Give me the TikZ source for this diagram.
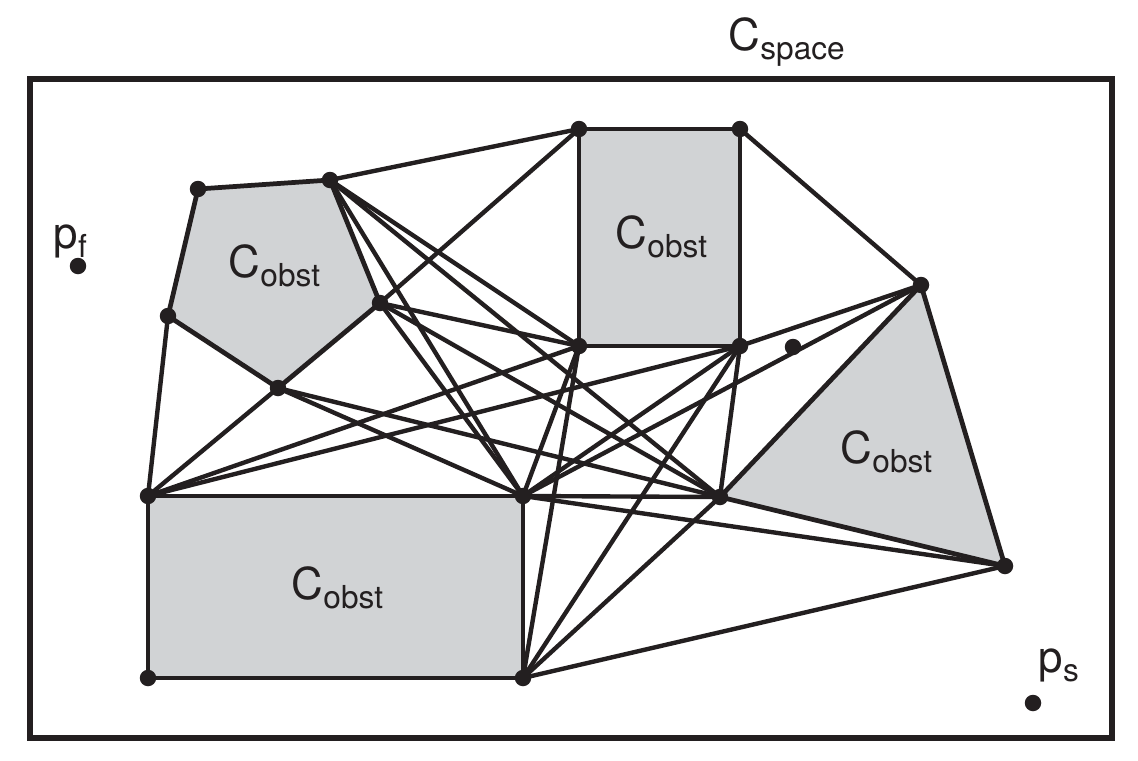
\documentclass[tikz,border=0pt]{standalone}
\usepackage{fontspec}
\setmainfont{TeX Gyre Heros}
\definecolor{obstgray}{RGB}{209,211,213}
\definecolor{inkblack}{RGB}{35,31,32}
\newcommand{\subtxt}[1]{\raisebox{-2.8pt}{\fontsize{9}{10}\selectfont #1}}

\begin{document}
\begin{tikzpicture}[x=0.1mm, y=-0.1mm, color=inkblack,
        edge/.style={line width=1.25pt},
        obst/.style={fill=obstgray, line width=1.35pt, line join=round},
        vtx/.style={circle, fill=inkblack, inner sep=0pt, minimum size=1.65mm},
        lbl/.style={anchor=base west, inner sep=0pt, font=\fontsize{12.5}{14}\selectfont}]
    \useasboundingbox (0,0) rectangle (1138,761);

    % Free space border
    \draw[line width=1.6pt] (30,79) rectangle (1112,738);
    \node[lbl] (cspace) at (728,50) {C\subtxt{space}};

    % Obstacle corners
    \coordinate (A1) at (198,189);
    \coordinate (A2) at (330,180);
    \coordinate (A3) at (380,303);
    \coordinate (A4) at (278,388);
    \coordinate (A5) at (168,316);
    \coordinate (B1) at (579,129);
    \coordinate (B2) at (740,129);
    \coordinate (B3) at (740,346);
    \coordinate (B4) at (579,346);
    \coordinate (T1) at (921,285);
    \coordinate (T2) at (1005,566);
    \coordinate (T3) at (720,497);
    \coordinate (R1) at (148,496);
    \coordinate (R2) at (523,496);
    \coordinate (R3) at (523,678);
    \coordinate (R4) at (148,678);
    \coordinate (M) at (793,347);

    % Obstacles
    \draw[obst] (A1) -- (A2) -- (A3) -- (A4) -- (A5) -- cycle;
    \draw[obst] (B1) -- (B2) -- (B3) -- (B4) -- cycle;
    \draw[obst] (T1) -- (T2) -- (T3) -- cycle;
    \draw[obst] (R1) -- (R2) -- (R3) -- (R4) -- cycle;
    \node[lbl] (lblA) at (228,277) {C\subtxt{obst}};
    \node[lbl] (lblB) at (615,248) {C\subtxt{obst}};
    \node[lbl] (lblT) at (840,463) {C\subtxt{obst}};
    \node[lbl] (lblR) at (291,599) {C\subtxt{obst}};

    % Visibility edges
    \foreach \a/\b in {A2/B1, A3/B1, A2/B4, A2/T3, A2/R2, A3/B4, A3/T3, A3/R2,
                       A4/R1, A4/R2, A4/T3, A5/R1, R1/B4, R1/B3, R2/B4, R2/B3,
                       R2/T1, R2/T3, R2/T2, R3/B4, R3/B3, R3/T3, R3/T2,
                       B2/T1, B3/T1, B3/T3}
        \draw[edge] (\a) -- (\b);

    % Corner dots
    \foreach \v in {A1,A2,A3,A4,A5,B1,B2,B3,B4,T1,T2,T3,R1,R2,R3,R4,M}
        \node[vtx] (dot\v) at (\v) {};

    % Start and goal
    \node[vtx] (pf) at (78,266) {};
    \node[lbl] (pflbl) at (53,248) {p\subtxt{f}};
    \node[vtx] (ps) at (1033,703) {};
    \node[lbl] (pslbl) at (1038,672) {p\subtxt{s}};
\end{tikzpicture}
\end{document}
